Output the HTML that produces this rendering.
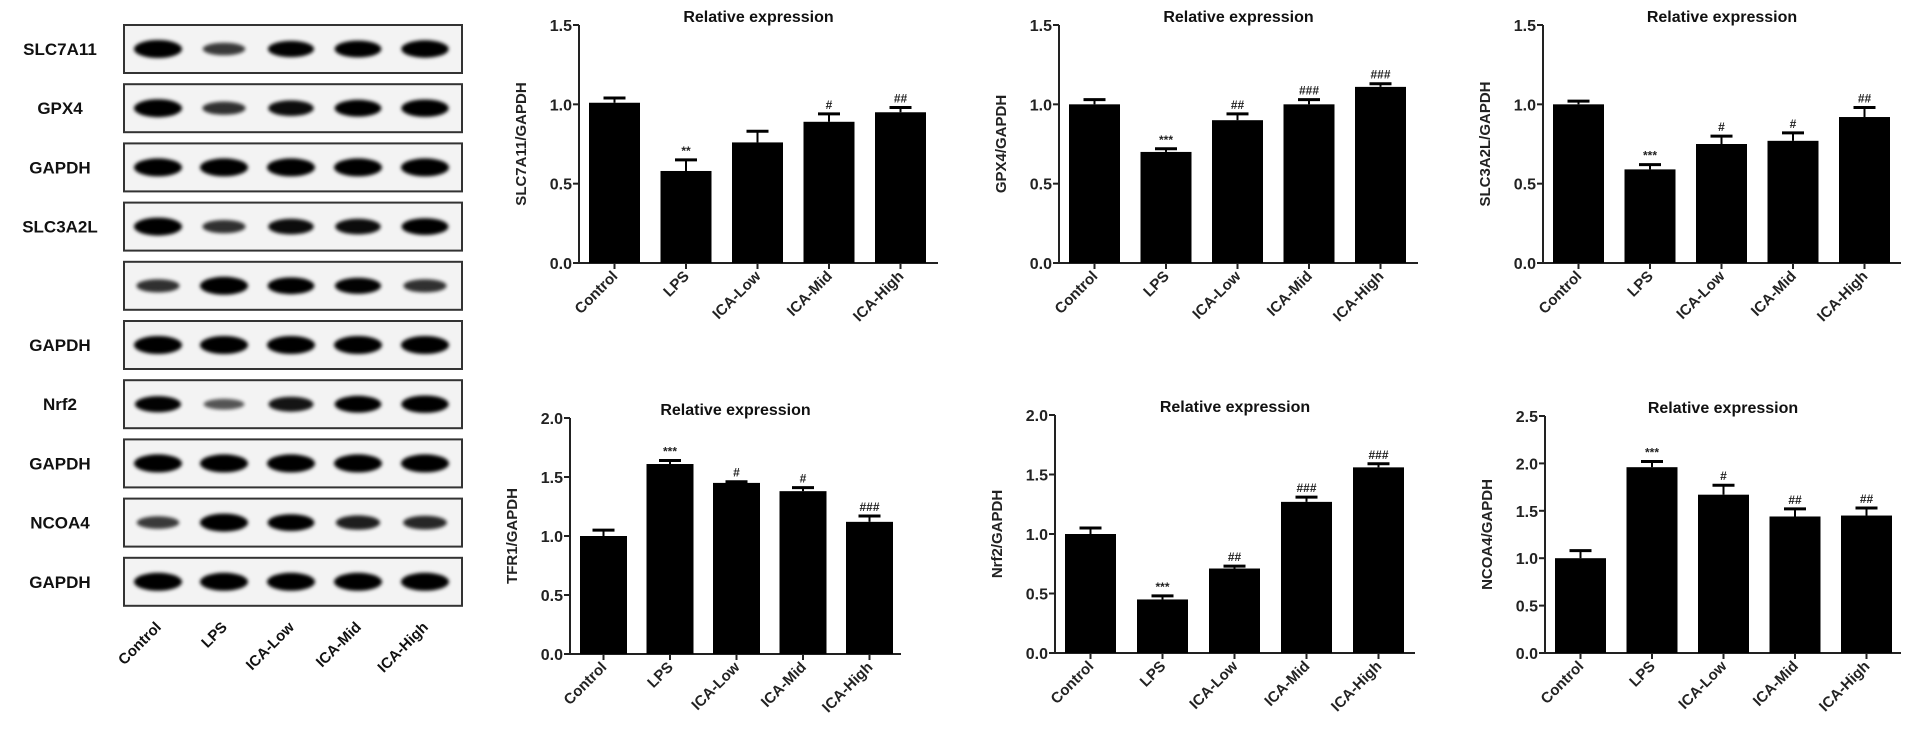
<!DOCTYPE html>
<html><head><meta charset="utf-8"><style>
html,body{margin:0;padding:0;background:#fff;}
svg{display:block;font-family:"Liberation Sans",Arial,sans-serif;font-weight:bold;}
</style></head><body>
<svg id="fig" width="1913" height="745" viewBox="0 0 1913 745">
<defs><filter id="blur" x="-30%" y="-60%" width="160%" height="220%"><feGaussianBlur stdDeviation="1.8"/></filter></defs>
<g id="blot"></g>
<g id="charts"></g>
</svg>
<script>
// ---- data ----
const categories = ["Control","LPS","ICA-Low","ICA-Mid","ICA-High"];
const blotLabels = ["SLC7A11","GPX4","GAPDH","SLC3A2L","","GAPDH","Nrf2","GAPDH","NCOA4","GAPDH"];
const blotIntensity = [
 [1,0.55,0.85,0.9,0.95],[1,0.6,0.8,0.9,0.95],[1,1,1,1,1],[1,0.6,0.8,0.8,0.9],
 [0.6,1,0.9,0.85,0.6],[1,1,1,1,1],[0.85,0.4,0.75,0.9,0.95],[1,1,1,1,1],
 [0.55,1,0.9,0.7,0.65],[1,1,1,1,1]];
const titlesY = ["SLC7A11/GAPDH","GPX4/GAPDH","SLC3A2L/GAPDH","TFR1/GAPDH","Nrf2/GAPDH","NCOA4/GAPDH"];
const valsSLC7A11 = [1.01,0.58,0.76,0.89,0.95];
const errSLC7A11 = [0.03,0.07,0.07,0.05,0.03];
const sigSLC7A11 = ["","**","","#","##"];
const valsGPX4 = [1.0,0.70,0.90,1.0,1.11];
const errGPX4 = [0.03,0.02,0.04,0.03,0.02];
const sigGPX4 = ["","***","##","###","###"];
const valsSLC3A2L = [1.0,0.59,0.75,0.77,0.92];
const errSLC3A2L = [0.02,0.03,0.05,0.05,0.06];
const sigSLC3A2L = ["","***","#","#","##"];
const valsTFR1 = [1.0,1.61,1.45,1.38,1.12];
const errTFR1 = [0.05,0.03,0.01,0.03,0.05];
const sigTFR1 = ["","***","#","#","###"];
const valsNrf2 = [1.0,0.45,0.71,1.27,1.56];
const errNrf2 = [0.05,0.03,0.02,0.04,0.03];
const sigNrf2 = ["","***","##","###","###"];
const valsNCOA4 = [1.0,1.96,1.67,1.44,1.45];
const errNCOA4 = [0.08,0.06,0.10,0.08,0.08];
const sigNCOA4 = ["","***","#","##","##"];
const ticksA = ["0.0","0.5","1.0","1.5"];
const ticksB = ["0.0","0.5","1.0","1.5","2.0"];
const ticksC = ["0.0","0.5","1.0","1.5","2.0","2.5"];

const NS="http://www.w3.org/2000/svg";
function mk(tag,attrs,parent,txt){const e=document.createElementNS(NS,tag);for(const k in attrs)e.setAttribute(k,attrs[k]);if(txt!==undefined)e.textContent=txt;parent.appendChild(e);return e;}

// ---- blot ----
const blot=document.getElementById('blot');
const laneX=[158,224,291,358,425];
blotLabels.forEach((lab,r)=>{
  const y0=25+r*59.2, h=48;
  const box=mk('rect',{x:124,y:y0,width:338,height:h,fill:'#f3f3f3',stroke:'#333','stroke-width':2},blot);
  
  
  blotIntensity[r].forEach((v,i)=>{
    const b=mk('ellipse',{cx:laneX[i],cy:y0+h/2,rx:18+6*v,ry:3+6*v,fill:'#000',opacity:Math.min(1,0.35+0.75*v),filter:'url(#blur)'},blot);
    
    
  });
  if(lab){const t=mk('text',{x:60,y:y0+h/2+6,'text-anchor':'middle','font-size':17,fill:'#111'},blot,lab);
    
    }
});
categories.forEach((c,i)=>{
  const t=mk('text',{x:laneX[i]+4,y:628,'text-anchor':'end','font-size':15,fill:'#111',transform:`rotate(-45 ${laneX[i]+4} 628)`},blot,c);
  
  
});

// ---- charts ----
const charts=[
 {ax:579,w:359,top:25,bot:263,max:1.5,ticks:ticksA,v:valsSLC7A11,e:errSLC7A11,s:sigSLC7A11,yt:titlesY[0],bw:51,step:71.5},
 {ax:1059,w:359,top:25,bot:263,max:1.5,ticks:ticksA,v:valsGPX4,e:errGPX4,s:sigGPX4,yt:titlesY[1],bw:51,step:71.5},
 {ax:1543,w:358,top:25,bot:263,max:1.5,ticks:ticksA,v:valsSLC3A2L,e:errSLC3A2L,s:sigSLC3A2L,yt:titlesY[2],bw:51,step:71.5},
 {ax:570,w:331,top:418,bot:654,max:2.0,ticks:ticksB,v:valsTFR1,e:errTFR1,s:sigTFR1,yt:titlesY[3],bw:47,step:66.5},
 {ax:1055,w:360,top:415,bot:653,max:2.0,ticks:ticksB,v:valsNrf2,e:errNrf2,s:sigNrf2,yt:titlesY[4],bw:51,step:72},
 {ax:1545,w:356,top:416,bot:653,max:2.5,ticks:ticksC,v:valsNCOA4,e:errNCOA4,s:sigNCOA4,yt:titlesY[5],bw:51,step:71.5},
];
const cg=document.getElementById('charts');
charts.forEach((c,ci)=>{
  const g=mk('g',{},cg);
  
  
  const y=v=>c.bot-(v/c.max)*(c.bot-c.top);
  const xc=i=>c.ax+10+c.bw/2+i*c.step;
  const tt=mk('text',{x:c.ax+c.w/2,y:c.top-3,'text-anchor':'middle','font-size':16,fill:'#111'},g,'Relative expression');
  
  
  const ya=mk('line',{x1:c.ax,y1:c.top,x2:c.ax,y2:c.bot,stroke:'#222','stroke-width':2},g);
  
  
  const xa=mk('line',{x1:c.ax-6,y1:c.bot,x2:c.ax+c.w,y2:c.bot,stroke:'#222','stroke-width':2},g);
  
  
  c.ticks.forEach(tk=>{
    const yy=y(parseFloat(tk));
    mk('line',{x1:c.ax-6,y1:yy,x2:c.ax,y2:yy,stroke:'#222','stroke-width':2},g);
    const t=mk('text',{x:c.ax-7,y:yy+6,'text-anchor':'end','font-size':16,fill:'#222'},g,tk);
    
    
  });
  const ytl=mk('text',{x:0,y:0,'text-anchor':'middle','font-size':15,fill:'#222',transform:`translate(${c.ax-53} ${(c.top+c.bot)/2}) rotate(-90)`},g,c.yt);
  
  
  c.v.forEach((v,i)=>{
    const x=xc(i);
    const r=mk('rect',{x:x-c.bw/2,y:y(v),width:c.bw,height:c.bot-y(v),fill:'#000'},g);
    
    
    const et=y(v+c.e[i]);
    mk('line',{x1:x,y1:y(v),x2:x,y2:et,stroke:'#000','stroke-width':2},g);
    const cap=mk('line',{x1:x-11,y1:et,x2:x+11,y2:et,stroke:'#000','stroke-width':3},g);
    
    
    if(c.s[i]){const s=mk('text',{x:x,y:et-5,'text-anchor':'middle','font-size':12,fill:'#222'},g,c.s[i]);
      
      }
    mk('line',{x1:x,y1:c.bot,x2:x,y2:c.bot+6,stroke:'#222','stroke-width':2},g);
    const lx=x+4, ly=c.bot+14;
    const xl=mk('text',{x:lx,y:ly,'text-anchor':'end','font-size':15,fill:'#222',transform:`rotate(-45 ${lx} ${ly})`},g,categories[i]);
    
    
  });
});
</script>
</body></html>
